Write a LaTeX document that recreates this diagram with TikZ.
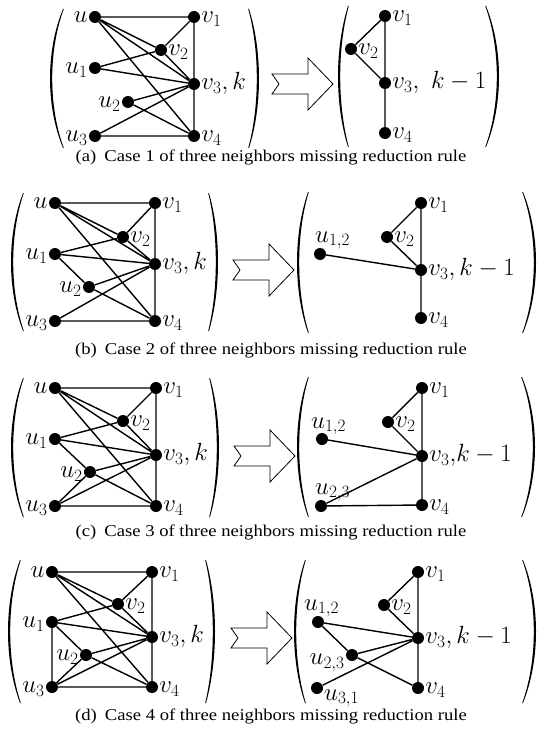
\documentclass[tikz,border=0pt]{standalone}
\usepackage{fontspec}
\newfontfamily\capfont[FakeStretch=1.13]{Liberation Serif}
\newcommand{\lblsize}{\fontsize{25}{30}\selectfont}
\newcommand{\capsize}{\fontsize{16.5}{20}\selectfont}
% #1 end x, #2 bulge x, #3 top y, #4 bottom y, #5 inward direction (1 or -1)
\newcommand{\drawparen}[5]{%
\fill ({#1},{#3})
 .. controls ({#1+4/3*(#2-#1)},{#3+0.3*(#4-#3)}) and ({#1+4/3*(#2-#1)},{#4-0.3*(#4-#3)}) .. ({#1},{#4})
 -- ({#1+0.8*(#5)},{#4})
 .. controls ({#1+0.8*(#5)+4/3*(#2+2.2*(#5)-#1-0.8*(#5))},{#4-0.3*(#4-#3)}) and ({#1+0.8*(#5)+4/3*(#2+2.2*(#5)-#1-0.8*(#5))},{#3+0.3*(#4-#3)}) .. ({#1+0.8*(#5)},{#3})
 -- cycle;}
\tikzset{
  dot/.style={circle, fill=black, inner sep=0pt, minimum size=12pt},
  link/.style={line width=1.4pt},
  lblL/.style={anchor=base east, inner sep=1pt, yshift=-5.4pt, font=\lblsize},
  lblR/.style={anchor=base west, inner sep=1pt, yshift=-5.4pt, font=\lblsize},
  lblfree/.style={inner sep=0pt, font=\lblsize},
  bigarrow/.style={draw, line width=0.8pt, fill=white, line join=miter},
  captext/.style={font=\capfont\capsize, inner sep=0pt}
}
\begin{document}
\begin{tikzpicture}[x=1pt,y=-1pt]
\useasboundingbox (0,0) rectangle (538,730);
\fill[white] (0,0) rectangle (538,730);

% ================= (a) =================
\node[dot] (a-u)  at (95,17) {};
\node[dot] (a-v1) at (194,17) {};
\node[dot] (a-v2) at (161,50) {};
\node[dot] (a-u1) at (95,68) {};
\node[dot] (a-v3) at (194,84) {};
\node[dot] (a-u2) at (128,102) {};
\node[dot] (a-u3) at (95,136) {};
\node[dot] (a-v4) at (194,136) {};
\node[lblL] at (a-u.west) {$u$};
\node[lblL] at (a-u1.west) {$u_1$};
\node[lblL] at (a-u2.west) {$u_2$};
\node[lblL] at (a-u3.west) {$u_3$};
\node[lblR] at (a-v1.east) {$v_1$};
\node[lblR] at (a-v2.east) {$v_2$};
\node[lblR] at (a-v3.east) {$v_3, k$};
\node[lblR] at (a-v4.east) {$v_4$};
\draw[link] (a-u) -- (a-v1) (a-u) -- (a-v2) (a-u) -- (a-v3) (a-u) -- (a-v4)
  (a-v1) -- (a-v2) (a-v1) -- (a-v3) (a-v2) -- (a-v3) (a-v3) -- (a-v4)
  (a-u1) -- (a-v2) (a-u1) -- (a-v3) (a-u2) -- (a-v3) (a-u2) -- (a-v4)
  (a-u3) -- (a-v3) (a-u3) -- (a-v4);
\drawparen{63}{50}{9}{148}{1}
\drawparen{249}{259}{9}{148}{-1}
\coordinate (a-tip) at (333,84);
\draw[bigarrow] (a-tip) -- ++(-25,-26) -- ++(0,16) -- ++(-36,0) -- ++(7,10) -- ++(-7,10) -- ++(36,0) -- ++(0,16) -- cycle;
\drawparen{348}{338}{6}{147}{1}
\drawparen{486}{499}{6}{147}{-1}
\node[dot] (a-w1) at (385,16) {};
\node[dot] (a-w2) at (351,49) {};
\node[dot] (a-w3) at (385,83) {};
\node[dot] (a-w4) at (385,133) {};
\node[lblR] at (a-w1.east) {$v_1$};
\node[lblR] at (a-w2.east) {$v_2$};
\node[lblR] at (a-w3.east) {$v_3,\ k-1$};
\node[lblR] at (a-w4.east) {$v_4$};
\draw[link] (a-w1) -- (a-w2) (a-w2) -- (a-w3) (a-w1) -- (a-w3) (a-w3) -- (a-w4);
\node[captext] (a-cap) at (271,157) {(a)\hspace{8pt}Case 1 of three neighbors missing reduction rule};

% ================= (b) =================
\node[dot] (b-u)  at (55,203) {};
\node[dot] (b-v1) at (155,203) {};
\node[dot] (b-v2) at (123,237) {};
\node[dot] (b-u1) at (55,254) {};
\node[dot] (b-v3) at (155,264) {};
\node[dot] (b-u2) at (89,287) {};
\node[dot] (b-u3) at (55,321) {};
\node[dot] (b-v4) at (155,321) {};
\node[lblL] at (b-u.west) {$u$};
\node[lblL] at (b-u1.west) {$u_1$};
\node[lblL] at (b-u2.west) {$u_2$};
\node[lblL] at (b-u3.west) {$u_3$};
\node[lblR] at (b-v1.east) {$v_1$};
\node[lblR] at (b-v2.east) {$v_2$};
\node[lblR] at (b-v3.east) {$v_3, k$};
\node[lblR] at (b-v4.east) {$v_4$};
\draw[link] (b-u) -- (b-v1) (b-u) -- (b-v2) (b-u) -- (b-v3) (b-u) -- (b-v4)
  (b-v1) -- (b-v2) (b-v1) -- (b-v3) (b-v2) -- (b-v3) (b-v3) -- (b-v4)
  (b-u1) -- (b-v2) (b-u1) -- (b-v3) (b-u2) -- (b-v3) (b-u2) -- (b-v4)
  (b-u3) -- (b-v3) (b-u3) -- (b-v4) (b-u1) -- (b-u2);
\drawparen{23}{11}{193}{331}{1}
\drawparen{209}{218}{193}{331}{-1}
\coordinate (b-tip) at (294,270);
\draw[bigarrow] (b-tip) -- ++(-25,-26) -- ++(0,16) -- ++(-36,0) -- ++(7,10) -- ++(-7,10) -- ++(36,0) -- ++(0,16) -- cycle;
\drawparen{308}{297}{192}{333}{1}
\drawparen{523}{536}{192}{333}{-1}
\node[dot] (b-w1) at (421,203) {};
\node[dot] (b-w2) at (387,237) {};
\node[dot] (b-x12) at (320,254) {};
\node[dot] (b-w3) at (421,270) {};
\node[dot] (b-w4) at (421,318) {};
\node[lblR] at (b-w1.east) {$v_1$};
\node[lblR] at (b-w2.east) {$v_2$};
\node[lblR] at (b-w3.east) {$v_3, k-1$};
\node[lblR] at (b-w4.east) {$v_4$};
\node[lblfree, anchor=base west] at ([xshift=-5pt,yshift=12pt]b-x12.center) {$u_{1,2}$};
\draw[link] (b-w1) -- (b-w2) (b-w2) -- (b-w3) (b-w1) -- (b-w3) (b-w3) -- (b-w4) (b-x12) -- (b-w3);
\node[captext] (b-cap) at (271,350) {(b)\hspace{8pt}Case 2 of three neighbors missing reduction rule};

% ================= (c) =================
\node[dot] (c-u)  at (55,388) {};
\node[dot] (c-v1) at (156,388) {};
\node[dot] (c-v2) at (123,421) {};
\node[dot] (c-u1) at (55,439) {};
\node[dot] (c-v3) at (156,455) {};
\node[dot] (c-u2) at (90,472) {};
\node[dot] (c-u3) at (55,506) {};
\node[dot] (c-v4) at (156,506) {};
\node[lblL] at (c-u.west) {$u$};
\node[lblL] at (c-u1.west) {$u_1$};
\node[lblL] at (c-u2.west) {$u_2$};
\node[lblL] at (c-u3.west) {$u_3$};
\node[lblR] at (c-v1.east) {$v_1$};
\node[lblR] at (c-v2.east) {$v_2$};
\node[lblR] at (c-v3.east) {$v_3, k$};
\node[lblR] at (c-v4.east) {$v_4$};
\draw[link] (c-u) -- (c-v1) (c-u) -- (c-v2) (c-u) -- (c-v3) (c-u) -- (c-v4)
  (c-v1) -- (c-v2) (c-v1) -- (c-v3) (c-v2) -- (c-v3) (c-v3) -- (c-v4)
  (c-u1) -- (c-v2) (c-u1) -- (c-v3) (c-u2) -- (c-v3) (c-u2) -- (c-v4)
  (c-u3) -- (c-v3) (c-u3) -- (c-v4) (c-u1) -- (c-u2) (c-u2) -- (c-u3);
\drawparen{23}{11}{378}{517}{1}
\drawparen{210}{219}{378}{517}{-1}
\coordinate (c-tip) at (295,456);
\draw[bigarrow] (c-tip) -- ++(-25,-26) -- ++(0,16) -- ++(-36,0) -- ++(7,10) -- ++(-7,10) -- ++(36,0) -- ++(0,16) -- cycle;
\drawparen{308}{297}{377}{517}{1}
\drawparen{522}{535}{377}{517}{-1}
\node[dot] (c-w1) at (422,388) {};
\node[dot] (c-w2) at (388,422) {};
\node[dot] (c-x12) at (322,439) {};
\node[dot] (c-w3) at (422,456) {};
\node[dot] (c-x23) at (321,506) {};
\node[dot] (c-w4) at (422,505) {};
\node[lblR] at (c-w1.east) {$v_1$};
\node[lblR] at (c-w2.east) {$v_2$};
\node[lblR] at (c-w3.east) {$v_3{,}k-1$};
\node[lblR] at (c-w4.east) {$v_4$};
\node[lblfree, anchor=base west] at ([xshift=-11pt,yshift=11pt]c-x12.center) {$u_{1,2}$};
\node[lblfree, anchor=base west] at ([xshift=-6pt,yshift=12pt]c-x23.center) {$u_{2,3}$};
\draw[link] (c-w1) -- (c-w2) (c-w2) -- (c-w3) (c-w1) -- (c-w3) (c-w3) -- (c-w4)
  (c-x12) -- (c-w3) (c-x23) -- (c-w3) (c-x23) -- (c-w4);
\node[captext] (c-cap) at (271,532) {(c)\hspace{8pt}Case 3 of three neighbors missing reduction rule};

% ================= (d) =================
\node[dot] (d-u)  at (52,572) {};
\node[dot] (d-v1) at (152,572) {};
\node[dot] (d-v2) at (118,604) {};
\node[dot] (d-u1) at (52,622) {};
\node[dot] (d-v3) at (152,637) {};
\node[dot] (d-u2) at (86,655) {};
\node[dot] (d-u3) at (52,687) {};
\node[dot] (d-v4) at (152,687) {};
\node[lblL] at (d-u.west) {$u$};
\node[lblL] at (d-u1.west) {$u_1$};
\node[lblL] at (d-u2.west) {$u_2$};
\node[lblL] at (d-u3.west) {$u_3$};
\node[lblR] at (d-v1.east) {$v_1$};
\node[lblR] at (d-v2.east) {$v_2$};
\node[lblR] at (d-v3.east) {$v_3, k$};
\node[lblR] at (d-v4.east) {$v_4$};
\draw[link] (d-u) -- (d-v1) (d-u) -- (d-v2) (d-u) -- (d-v3) (d-u) -- (d-v4)
  (d-v1) -- (d-v2) (d-v1) -- (d-v3) (d-v2) -- (d-v3) (d-v3) -- (d-v4)
  (d-u1) -- (d-v2) (d-u1) -- (d-v3) (d-u2) -- (d-v3) (d-u2) -- (d-v4)
  (d-u3) -- (d-v3) (d-u3) -- (d-v4) (d-u1) -- (d-u2) (d-u2) -- (d-u3) (d-u1) -- (d-u3);
\drawparen{20}{8}{560}{703}{1}
\drawparen{206}{215}{560}{703}{-1}
\coordinate (d-tip) at (292,638);
\draw[bigarrow] (d-tip) -- ++(-25,-26) -- ++(0,16) -- ++(-36,0) -- ++(7,10) -- ++(-7,10) -- ++(36,0) -- ++(0,16) -- cycle;
\drawparen{305}{294}{560}{703}{1}
\drawparen{523}{536}{560}{703}{-1}
\node[dot] (d-w1) at (418,572) {};
\node[dot] (d-w2) at (384,605) {};
\node[dot] (d-x12) at (318,622) {};
\node[dot] (d-w3) at (418,638) {};
\node[dot] (d-x23) at (352,655) {};
\node[dot] (d-x31) at (317,688) {};
\node[dot] (d-w4) at (418,688) {};
\node[lblR] at (d-w1.east) {$v_1$};
\node[lblR] at (d-w2.east) {$v_2$};
\node[lblR] at (d-w3.east) {$v_3, k-1$};
\node[lblR] at (d-w4.east) {$v_4$};
\node[lblfree, anchor=base west] at ([xshift=-14pt,yshift=12pt]d-x12.center) {$u_{1,2}$};
\node[lblL, yshift=-4pt] at (d-x23.west) {$u_{2,3}$};
\node[lblfree, anchor=base west] at ([xshift=7pt,yshift=-12pt]d-x31.center) {$u_{3,1}$};
\draw[link] (d-w1) -- (d-w2) (d-w2) -- (d-w3) (d-w1) -- (d-w3) (d-w3) -- (d-w4)
  (d-x12) -- (d-w3) (d-x12) -- (d-x23) (d-x23) -- (d-w3) (d-x23) -- (d-w4) (d-x31) -- (d-w3);
\node[captext] (d-cap) at (271,716) {(d)\hspace{8pt}Case 4 of three neighbors missing reduction rule};
\end{tikzpicture}
\end{document}
